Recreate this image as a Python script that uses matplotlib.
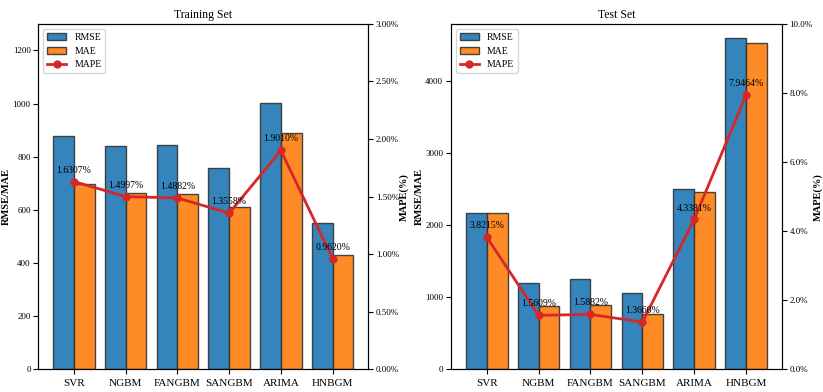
import numpy as np
import matplotlib
matplotlib.use("Agg")
import matplotlib.pyplot as plt
from matplotlib.ticker import FuncFormatter

plt.rcParams["font.family"] = ["Liberation Serif", "DejaVu Serif"]

models = ["SVR", "NGBM", "FANGBM", "SANGBM", "ARIMA", "HNBGM"]

train_rmse = [879, 841, 844, 757, 1003, 550]
train_mae = [699, 663, 660, 609, 890, 429]
train_mape = [1.6307, 1.4997, 1.4882, 1.3558, 1.9010, 0.9620]

test_rmse = [2174, 1205, 1256, 1065, 2512, 4604]
test_mae = [2172, 880, 894, 769, 2470, 4538]
test_mape = [3.8215, 1.5609, 1.5882, 1.3660, 4.3381, 7.9464]


def draw_panel(ax, rmse, mae, mape, title, ylim, mape_lim, mape_fmt):
    x = np.arange(len(models))
    w = 0.4
    b1 = ax.bar(x - w / 2, rmse, w, color="#1f77b4", alpha=0.9,
                edgecolor="#333333", linewidth=1, label="RMSE")
    b2 = ax.bar(x + w / 2, mae, w, color="#ff7f0e", alpha=0.9,
                edgecolor="#333333", linewidth=1, label="MAE")
    ax.set_ylim(*ylim)
    ax.set_xticks(x)
    ax.set_xticklabels(models, fontsize=8)
    ax.tick_params(axis="y", labelsize=6.5, pad=2)
    ax.set_ylabel("RMSE/MAE", fontsize=7.5, fontweight="bold", labelpad=1)
    ax.set_title(title, fontsize=8.5, pad=4)

    ax2 = ax.twinx()
    l, = ax2.plot(x, mape, color="#d62728", marker="o", linewidth=2,
                  markersize=5, label="MAPE")
    ax2.set_ylim(*mape_lim)
    ax2.yaxis.set_major_formatter(FuncFormatter(lambda v, p: mape_fmt.format(v)))
    ax2.tick_params(axis="y", labelsize=6.5, pad=2)
    ax2.set_ylabel("MAPE(%)", fontsize=7.5, fontweight="bold", labelpad=0.5)
    for xi, v in zip(x, mape):
        ax2.annotate(f"{v:.4f}%", (xi, v), xytext=(0, 5), textcoords="offset points",
                     ha="center", va="bottom", fontsize=7)

    ax.legend([b1, b2, l], ["RMSE", "MAE", "MAPE"], loc="upper left", fontsize=7)
    return ax2


fig = plt.figure(figsize=(8.23, 3.92), dpi=100)
ax_l = fig.add_axes([0.0465, 0.058, 0.401, 0.881])
ax_r = fig.add_axes([0.548, 0.058, 0.402, 0.881])

draw_panel(ax_l, train_rmse, train_mae, train_mape, "Training Set",
           (0, 1300), (0, 3.0), "{:.2f}%")
draw_panel(ax_r, test_rmse, test_mae, test_mape, "Test Set",
           (0, 4800), (0, 10.0), "{:.1f}%")

fig.savefig("out.png", dpi=100)
